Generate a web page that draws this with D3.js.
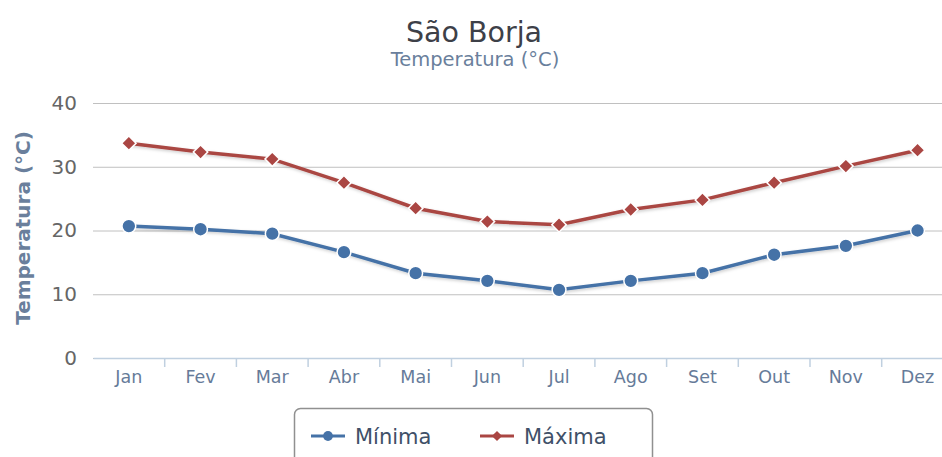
<!DOCTYPE html>
<html>
<head>
<meta charset="utf-8">
<script src="https://cdn.jsdelivr.net/npm/d3@7"></script>
<style>
  body { margin: 0; background: #fff; }
  svg { display: block; font-family: "DejaVu Sans", sans-serif; }
</style>
</head>
<body>
<svg></svg>
<script>
const months = ["Jan", "Fev", "Mar", "Abr", "Mai", "Jun", "Jul", "Ago", "Set", "Out", "Nov", "Dez"];
const minima = [20.7, 20.2, 19.5, 16.6, 13.3, 12.1, 10.7, 12.1, 13.3, 16.2, 17.6, 20.0];
const maxima = [33.7, 32.3, 31.2, 27.5, 23.5, 21.4, 20.9, 23.3, 24.8, 27.5, 30.1, 32.6];
const yTicks = [0, 10, 20, 30, 40];

const width = 942;
const height = 457;
const plotLeft = 93;
const plotTop = 103;
const plotBottom = 358;
const svg = d3.select("svg").attr("width", width).attr("height", height);

const defs = svg.append("defs");
const shadow = defs.append("filter").attr("id", "shadow")
  .attr("x", "-5%").attr("y", "-20%").attr("width", "110%").attr("height", "140%");
shadow.append("feDropShadow").attr("dx", 1).attr("dy", 1.5).attr("stdDeviation", 1.5)
  .attr("flood-color", "#000").attr("flood-opacity", 0.2);

// scales
const xScale = d3.scaleBand().domain(months).range([plotLeft, plotLeft + 12 * 71.7]);
const yScale = d3.scaleLinear().domain([0, 40]).range([plotBottom, plotTop]);
const cx = (d, i) => xScale(months[i]) + xScale.bandwidth() / 2;

// title
svg.append("text").attr("x", 474).attr("y", 42).attr("text-anchor", "middle")
  .attr("font-size", 28.5).attr("fill", "#3d4048").text("São Borja");
svg.append("text").attr("x", 475).attr("y", 66).attr("text-anchor", "middle")
  .attr("font-size", 19.5).attr("fill", "#6a7f9c").text("Temperatura (°C)");

// grid
const yAxis = d3.axisLeft(yScale).tickValues(yTicks).tickSize(-(width - plotLeft)).tickPadding(16);
const gy = svg.append("g").attr("transform", "translate(" + plotLeft + ",0)").call(yAxis);
gy.select(".domain").remove();
gy.selectAll(".tick line").attr("stroke", "#c0c0c0");
gy.selectAll(".tick text").attr("font-size", 20).attr("fill", "#666")
  .attr("font-family", "\"DejaVu Sans\", sans-serif");

// x axis
const xAxis = d3.axisBottom(xScale).tickSize(0).tickPadding(13);
const gx = svg.append("g").attr("transform", "translate(0," + plotBottom + ")").call(xAxis);
gx.select(".domain").attr("stroke", "#c0d0e0").attr("stroke-width", 1.5);
gx.selectAll(".tick text").attr("font-size", 17.5).attr("fill", "#667b99")
  .attr("font-family", "\"DejaVu Sans\", sans-serif");
gx.selectAll(".bound").data(months.slice(1)).enter().append("line")
  .attr("x1", (d) => xScale(d)).attr("x2", (d) => xScale(d))
  .attr("y1", 0).attr("y2", 9).attr("stroke", "#c0d0e0").attr("stroke-width", 1.5);

// y axis title
svg.append("text").attr("transform", "translate(30,228) rotate(-90)")
  .attr("text-anchor", "middle").attr("font-size", 20).attr("font-weight", "bold")
  .attr("fill", "#6a7f9c").text("Temperatura (°C)");

// series
const line = d3.line().x(cx).y((d) => yScale(d));
const series = [
  { name: "Mínima", values: minima, color: "#4572a7", symbol: d3.symbolCircle, size: 150, rot: 0 },
  { name: "Máxima", values: maxima, color: "#aa4643", symbol: d3.symbolSquare, size: 105, rot: 45 },
];

series.forEach((s) => {
  const g = svg.append("g");
  g.append("path").datum(s.values).attr("d", line).attr("fill", "none")
    .attr("stroke", s.color).attr("stroke-width", 3.5).attr("filter", "url(#shadow)");
  g.selectAll("path.marker").data(s.values).enter().append("path").attr("class", "marker")
    .attr("d", d3.symbol().type(s.symbol).size(s.size))
    .attr("transform", (d, i) => "translate(" + cx(d, i) + "," + yScale(d) + ") rotate(" + s.rot + ")")
    .attr("fill", s.color).attr("stroke", "#fff").attr("stroke-width", 1.5);
});

// legend
const legend = svg.append("g");
legend.append("rect").attr("x", 294.5).attr("y", 408.5).attr("width", 358).attr("height", 60)
  .attr("rx", 6).attr("fill", "#fff").attr("stroke", "#909090").attr("stroke-width", 1.5);
const legendX = [311, 480];
series.forEach((s, i) => {
  const lg = legend.append("g").attr("transform", "translate(" + legendX[i] + ",436)");
  lg.append("line").attr("x1", 0).attr("x2", 34).attr("stroke", s.color).attr("stroke-width", 3);
  lg.append("path").attr("d", d3.symbol().type(s.symbol).size(s.size * 0.5))
    .attr("transform", "translate(17,0) rotate(" + s.rot + ")").attr("fill", s.color);
  lg.append("text").attr("x", 44).attr("y", 7.5).attr("font-size", 21).attr("fill", "#405068")
    .text(s.name);
});
</script>
</body>
</html>
